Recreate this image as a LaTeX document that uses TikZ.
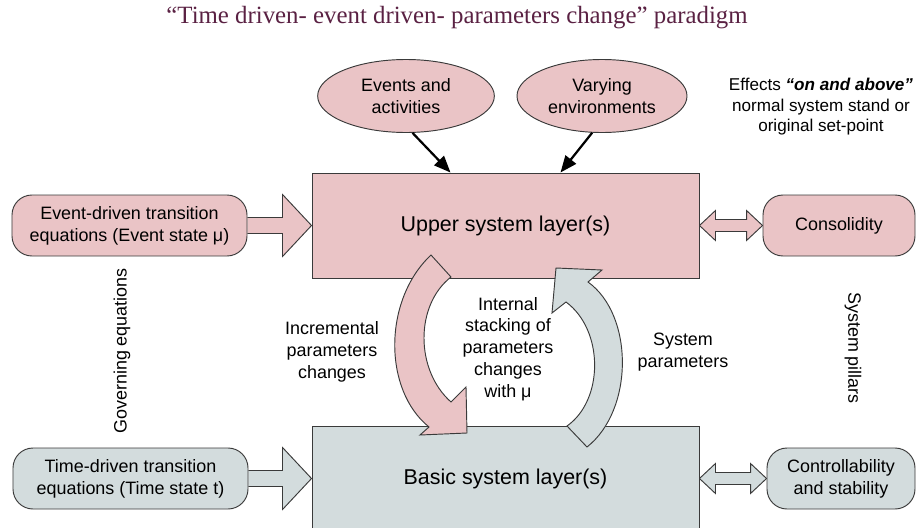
\documentclass[tikz,border=0pt]{standalone}
\usepackage{fontspec}
\setmainfont{Liberation Sans}
\newfontfamily\titlefont{Liberation Serif}
\usetikzlibrary{arrows.meta,calc,shapes.geometric,backgrounds}

\definecolor{rosefill}{HTML}{EAC4C6}
\definecolor{greyfill}{HTML}{D3DCDD}
\definecolor{edgegrey}{HTML}{3A3A3A}
\definecolor{plum}{HTML}{5A2143}

% fat arrow from the right side of one node to the left side of another
\newcommand{\pushto}[3]{%
\filldraw[fat,fill=#1] ($(#2.east)+(0,-8)$) -- ($(#3.west)+(-29,-8)$) -- ($(#3.west)+(-29,-31)$)
  -- (#3.west) -- ($(#3.west)+(-29,31)$) -- ($(#3.west)+(-29,8)$) -- ($(#2.east)+(0,8)$);
}
% fat double arrow between two nodes
\newcommand{\bothways}[3]{%
\filldraw[fat,fill=#1] (#2.east) -- ++(16,-15) -- ++(0,9) -- ($(#3.west)+(-16,-6)$) -- ++(0,-9)
  -- (#3.west) -- ++(-16,15) -- ++(0,-9) -- ($(#2.east)+(16,6)$) -- ++(0,9) -- cycle;
}

\begin{document}
\begin{tikzpicture}[x=0.03cm,y=-0.03cm,
  txt/.style={font=\fontsize{15.3}{18.6}\selectfont,align=center},
  layer/.style={draw=edgegrey,line width=0.8pt,minimum width=11.61cm,minimum height=3.15cm,font=\fontsize{18.3}{22}\selectfont},
  pillbox/.style={draw=edgegrey,line width=0.8pt,rounded corners=0.6cm,minimum height=1.83cm,txt},
  cloud/.style={ellipse,draw=edgegrey,line width=0.8pt,fill=rosefill,minimum height=2.19cm,inner sep=0pt,txt},
  fat/.style={draw=edgegrey,line width=0.8pt,line join=miter},
  feed/.style={line width=1.9pt,-{Triangle[length=0.5cm,width=0.4cm]}}]
\useasboundingbox (0,0) rectangle (917,528);
\clip (0,0) rectangle (917,528);

% title
\node[font=\titlefont\fontsize{21.2}{24}\selectfont,text=plum] (title) at (457,18)
  {“Time driven- event driven- parameters change” paradigm};

% inputs on top
\node[cloud,minimum width=5.3cm] (ev) at (406,96) {Events and\\activities};
\node[cloud,minimum width=5.1cm] (env) at (602,96) {Varying\\environments};
\node[txt,font=\fontsize{14.6}{17.5}\selectfont] (fx) at (821,107) {Effects \textbf{\textit{“on and above”}}\\normal system stand or\\original set-point};

% layers
\node[layer,fill=rosefill] (upper) at (505.5,225.5) {Upper system layer(s)};
\node[layer,fill=greyfill] (basic) at (505.5,478.5) {Basic system layer(s)};

% side boxes
\node[pillbox,fill=rosefill,minimum width=7.05cm] (evt) at (129.5,225.5) {Event-driven transition\\equations (Event state μ)};
\node[pillbox,fill=greyfill,minimum width=7.05cm] (tm) at (130.5,478.5) {Time-driven transition\\equations (Time state t)};
\node[pillbox,fill=rosefill,minimum width=4.56cm] (cons) at (839,225.5) {Consolidity};
\node[pillbox,fill=greyfill,minimum width=4.44cm] (ctrl) at (841,478.5) {Controllability\\and stability};

% block arrows
\begin{scope}[on background layer]
\pushto{rosefill}{evt}{upper}
\pushto{greyfill}{tm}{basic}
\bothways{rosefill}{upper}{cons}
\bothways{greyfill}{basic}{ctrl}
\end{scope}

\draw[feed] (ev.-80) -- ($(upper.north)+(-55,0)$);
\draw[feed] (env.-105) -- ($(upper.north)+(55,0)$);

% curved arrows between the layers
\filldraw[fat,fill=rosefill] (431,255) .. controls (383,300) and (383,390) .. (429,427) -- (420,435)
  -- (467,433) -- (466,387) -- (451,402) .. controls (415,370) and (415,305) .. (451,277) -- cycle;
\filldraw[fat,fill=greyfill] (567,426) .. controls (604,400) and (604,330) .. (566,302) -- (552,313)
  -- (556,268) -- (602,270) -- (588,282) .. controls (634,315) and (634,410) .. (587,447) -- cycle;

% labels
\node[txt] (incr) at (332,352) {Incremental\\parameters\\changes};
\node[txt] (stack) at (508,349) {Internal\\stacking of\\parameters\\changes\\with μ};
\node[txt] (sysp) at (683,352) {System\\parameters};
\node[txt,rotate=90] (gov) at (122,351) {Governing equations};
\node[txt,rotate=-90] (pil) at (853,348) {System pillars};
\end{tikzpicture}
\end{document}
